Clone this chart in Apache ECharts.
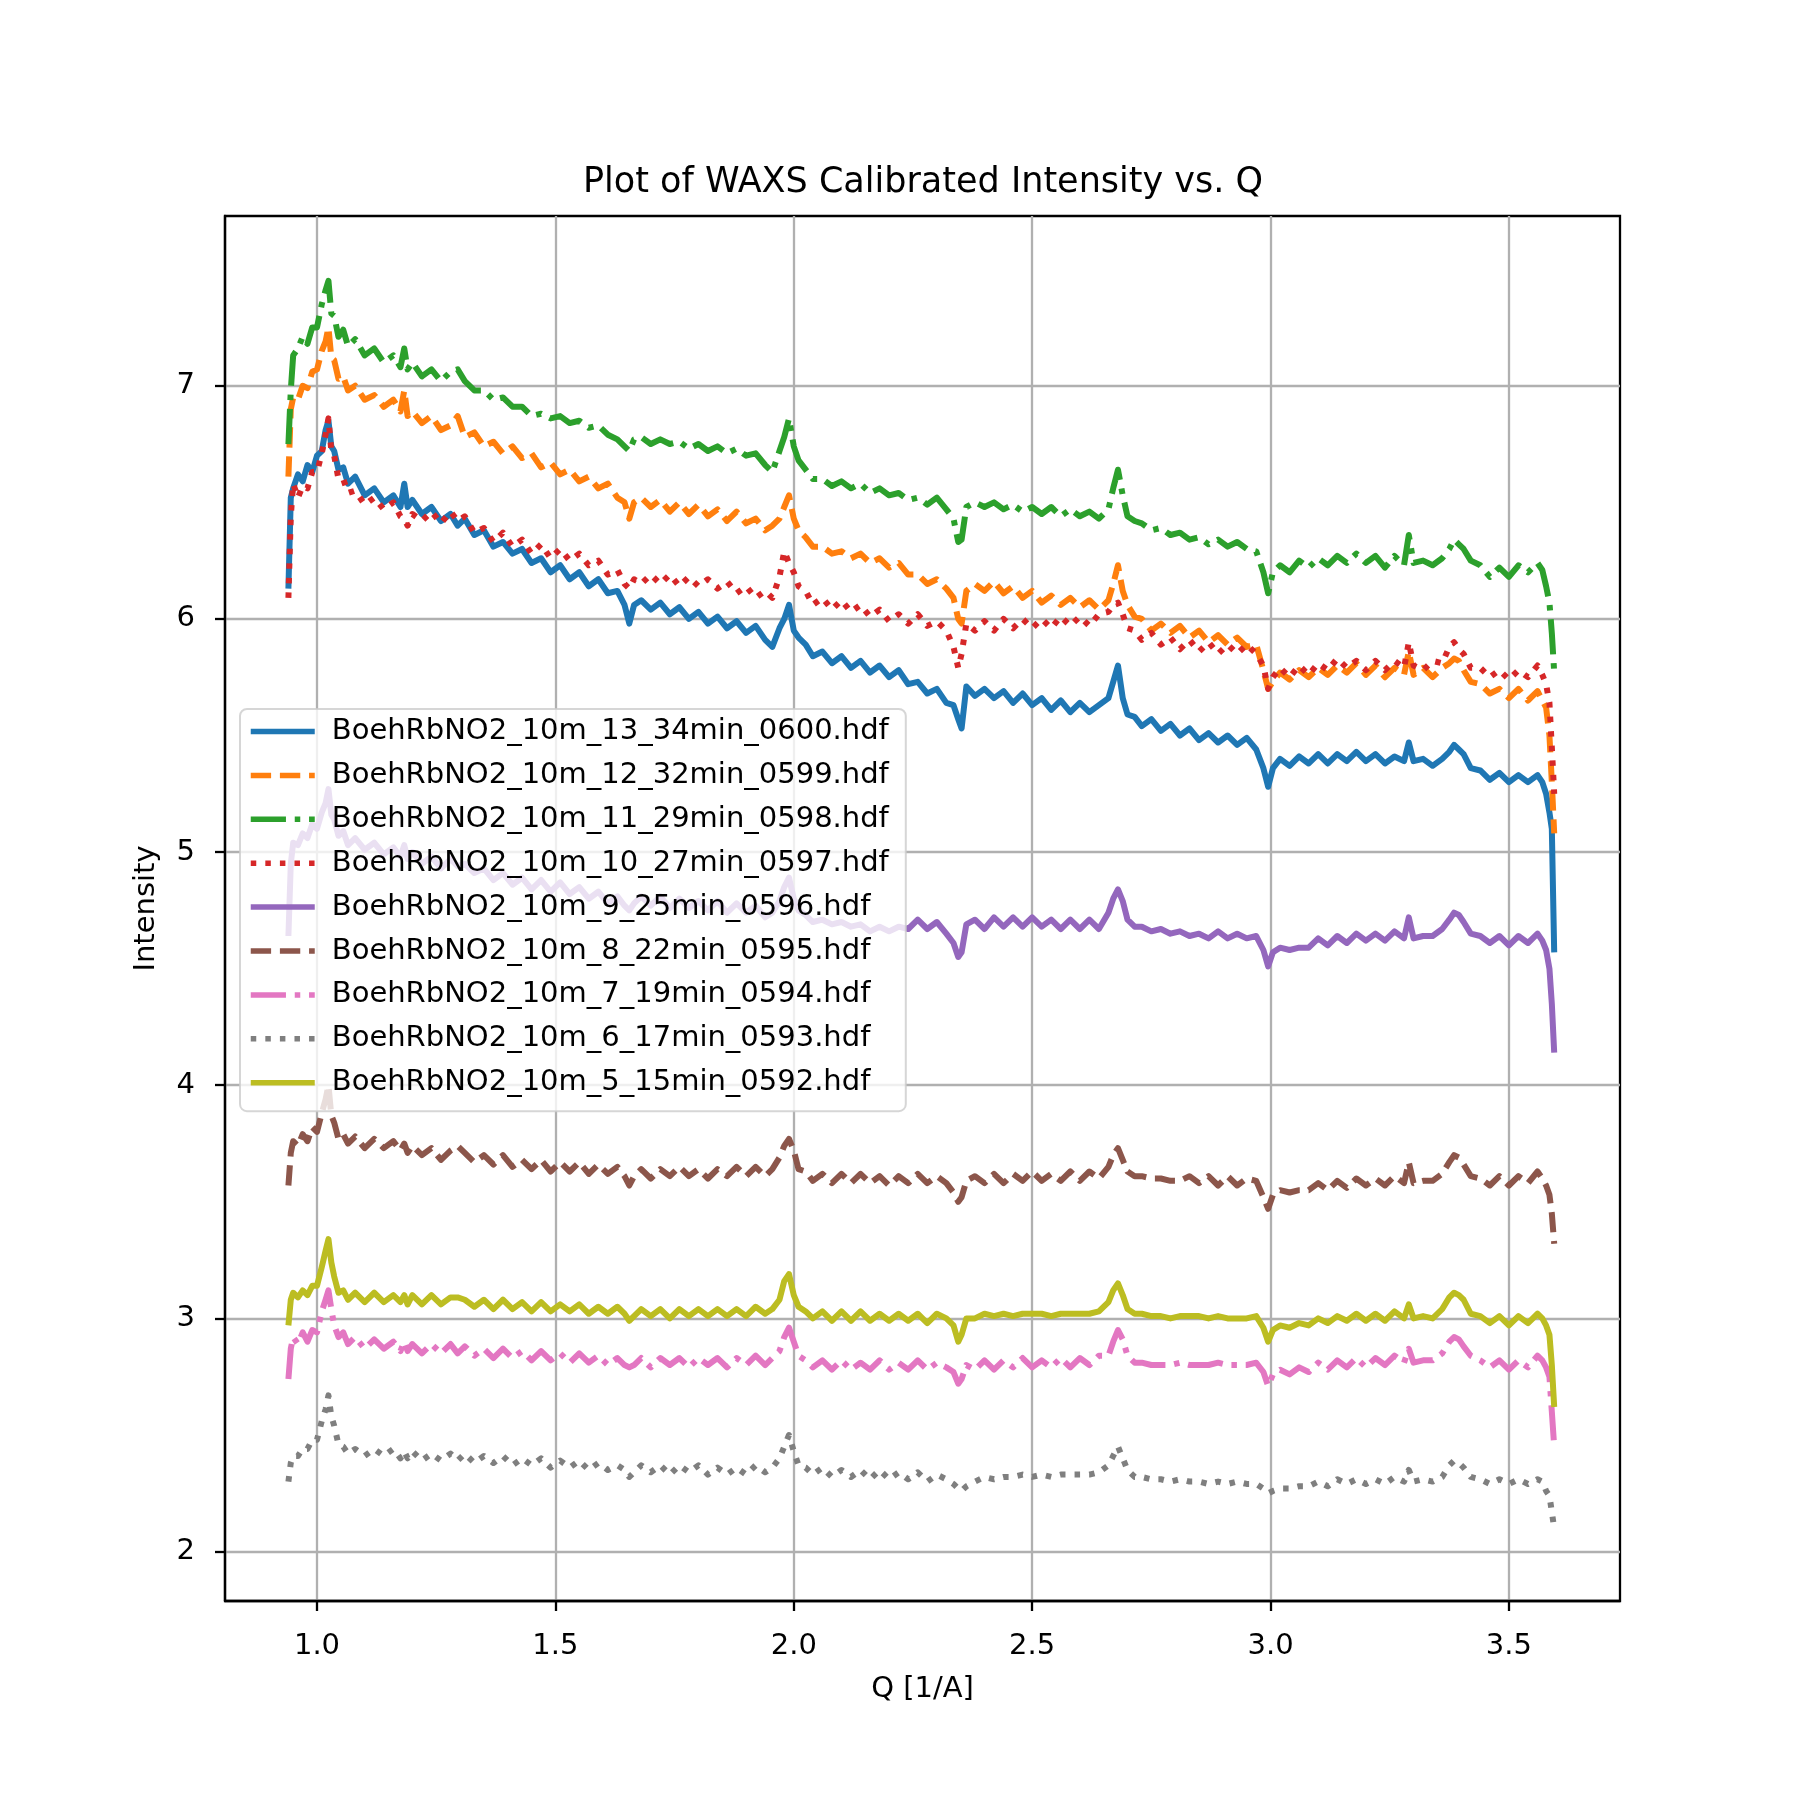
<!DOCTYPE html>
<html><head><meta charset="utf-8">
<script src="https://cdn.jsdelivr.net/npm/echarts@6/dist/echarts.min.js"></script>
<style>html,body{margin:0;padding:0;background:#fff}#c{width:1800px;height:1800px}</style>
</head><body><div id="c"></div>
<script>
// Q grid [1/A]
const Q = [
0.940,0.945,0.950,0.960,0.970,0.980,0.990,1.000,1.010,1.018,
1.024,1.030,1.036,1.045,1.055,1.065,1.080,1.100,1.120,1.140,
1.160,1.175,1.183,1.190,1.200,1.220,1.240,1.260,1.280,1.295,
1.310,1.330,1.350,1.370,1.390,1.410,1.430,1.450,1.470,1.490,
1.510,1.530,1.550,1.570,1.590,1.610,1.630,1.645,1.655,1.665,
1.680,1.700,1.720,1.740,1.760,1.780,1.800,1.820,1.840,1.860,
1.880,1.900,1.920,1.940,1.955,1.970,1.980,1.990,2.000,2.010,
2.025,2.040,2.060,2.080,2.100,2.120,2.140,2.160,2.180,2.200,
2.220,2.240,2.260,2.280,2.300,2.320,2.335,2.345,2.352,2.362,
2.380,2.400,2.420,2.440,2.460,2.480,2.500,2.520,2.540,2.560,
2.580,2.600,2.620,2.640,2.660,2.670,2.680,2.690,2.700,2.715,
2.730,2.750,2.770,2.790,2.810,2.830,2.850,2.870,2.890,2.910,
2.930,2.950,2.970,2.985,2.995,3.005,3.020,3.040,3.060,3.080,
3.100,3.120,3.140,3.160,3.180,3.200,3.220,3.240,3.260,3.280,
3.290,3.300,3.320,3.340,3.360,3.375,3.385,3.395,3.405,3.420,
3.440,3.460,3.480,3.500,3.520,3.540,3.560,3.570,3.578,3.585,
3.590,3.595];

const I_0600 = [
6.13,6.52,6.56,6.62,6.59,6.66,6.63,6.70,6.72,6.81,
6.85,6.74,6.72,6.64,6.65,6.58,6.61,6.53,6.56,6.50,
6.53,6.48,6.58,6.48,6.51,6.45,6.48,6.42,6.45,6.40,
6.43,6.36,6.38,6.31,6.33,6.28,6.30,6.24,6.26,6.20,
6.23,6.17,6.20,6.14,6.17,6.11,6.12,6.06,5.98,6.06,
6.08,6.04,6.07,6.02,6.05,6.00,6.03,5.98,6.01,5.96,
5.99,5.94,5.97,5.91,5.88,5.96,6.00,6.06,5.95,5.92,
5.89,5.84,5.86,5.81,5.84,5.79,5.82,5.77,5.80,5.75,
5.78,5.72,5.73,5.68,5.70,5.64,5.63,5.57,5.53,5.71,
5.67,5.70,5.66,5.69,5.64,5.68,5.63,5.66,5.61,5.65,
5.60,5.64,5.60,5.63,5.66,5.73,5.80,5.66,5.59,5.58,
5.54,5.57,5.52,5.55,5.50,5.53,5.48,5.51,5.47,5.50,
5.46,5.49,5.44,5.36,5.28,5.36,5.40,5.37,5.41,5.38,
5.42,5.38,5.42,5.39,5.43,5.39,5.42,5.38,5.41,5.39,
5.47,5.39,5.40,5.37,5.40,5.43,5.46,5.44,5.42,5.36,
5.35,5.31,5.34,5.30,5.33,5.30,5.33,5.30,5.25,5.17,
5.10,4.57];

const I_0599 = [
6.61,6.90,6.95,6.94,7.00,6.99,7.06,7.07,7.15,7.19,
7.25,7.12,7.11,7.03,7.04,6.98,7.00,6.94,6.96,6.91,
6.94,6.89,6.98,6.87,6.89,6.84,6.87,6.81,6.83,6.87,
6.78,6.80,6.74,6.76,6.71,6.74,6.69,6.71,6.65,6.67,
6.62,6.64,6.59,6.61,6.56,6.58,6.52,6.50,6.43,6.50,
6.52,6.48,6.51,6.46,6.50,6.45,6.49,6.44,6.47,6.42,
6.46,6.41,6.43,6.38,6.40,6.43,6.48,6.53,6.43,6.38,
6.35,6.31,6.31,6.28,6.29,6.26,6.28,6.24,6.26,6.22,
6.24,6.19,6.19,6.15,6.17,6.13,6.09,6.00,5.98,6.12,
6.15,6.12,6.16,6.11,6.14,6.09,6.12,6.07,6.10,6.06,
6.09,6.05,6.08,6.04,6.08,6.15,6.23,6.12,6.06,6.01,
6.00,5.95,5.98,5.94,5.97,5.92,5.95,5.90,5.93,5.89,
5.92,5.88,5.89,5.78,5.70,5.73,5.77,5.74,5.78,5.75,
5.79,5.76,5.80,5.77,5.81,5.76,5.80,5.75,5.79,5.76,
5.86,5.76,5.79,5.75,5.79,5.81,5.83,5.82,5.78,5.73,
5.72,5.68,5.70,5.66,5.70,5.65,5.69,5.65,5.62,5.50,
5.30,5.08];

const I_0598 = [
6.75,6.98,7.13,7.16,7.21,7.18,7.25,7.25,7.35,7.41,
7.45,7.31,7.30,7.21,7.24,7.17,7.20,7.13,7.16,7.10,
7.13,7.08,7.16,7.07,7.10,7.04,7.07,7.02,7.06,7.07,
7.02,6.98,6.98,6.94,6.95,6.91,6.91,6.87,6.88,6.86,
6.87,6.84,6.85,6.82,6.83,6.79,6.77,6.74,6.72,6.77,
6.78,6.75,6.77,6.75,6.76,6.73,6.75,6.72,6.74,6.71,
6.73,6.70,6.71,6.66,6.63,6.72,6.78,6.86,6.74,6.68,
6.64,6.60,6.60,6.57,6.59,6.56,6.58,6.54,6.56,6.53,
6.54,6.51,6.52,6.49,6.52,6.47,6.43,6.33,6.34,6.48,
6.50,6.48,6.50,6.47,6.49,6.46,6.48,6.45,6.48,6.44,
6.47,6.44,6.46,6.43,6.47,6.56,6.64,6.53,6.44,6.42,
6.41,6.38,6.39,6.36,6.37,6.34,6.35,6.32,6.34,6.31,
6.33,6.30,6.29,6.20,6.11,6.20,6.23,6.20,6.25,6.22,
6.26,6.23,6.27,6.24,6.28,6.24,6.27,6.22,6.27,6.23,
6.36,6.24,6.25,6.23,6.26,6.30,6.34,6.32,6.30,6.25,
6.23,6.18,6.22,6.18,6.23,6.20,6.24,6.21,6.14,6.07,
5.94,5.77];

const I_0597 = [
6.09,6.44,6.58,6.52,6.57,6.56,6.63,6.63,6.71,6.79,
6.86,6.72,6.70,6.60,6.60,6.54,6.55,6.49,6.52,6.47,
6.50,6.44,6.43,6.40,6.45,6.42,6.46,6.41,6.46,6.42,
6.44,6.37,6.39,6.33,6.37,6.31,6.34,6.28,6.32,6.26,
6.30,6.25,6.28,6.23,6.25,6.19,6.21,6.15,6.13,6.17,
6.15,6.19,6.15,6.19,6.14,6.18,6.14,6.17,6.13,6.16,
6.11,6.14,6.09,6.12,6.09,6.18,6.29,6.24,6.20,6.14,
6.12,6.06,6.09,6.04,6.08,6.03,6.06,6.01,6.04,5.99,
6.02,5.98,6.02,5.97,5.99,5.95,5.88,5.79,5.85,5.98,
5.95,5.99,5.95,6.00,5.96,6.00,5.96,6.00,5.96,6.01,
5.97,6.01,5.97,6.02,6.03,6.06,6.07,6.02,5.96,5.95,
5.91,5.94,5.89,5.92,5.87,5.91,5.86,5.90,5.85,5.89,
5.85,5.89,5.85,5.80,5.70,5.75,5.79,5.75,5.80,5.76,
5.81,5.78,5.83,5.79,5.82,5.78,5.82,5.78,5.82,5.79,
5.90,5.80,5.78,5.82,5.81,5.88,5.90,5.87,5.85,5.79,
5.79,5.75,5.78,5.74,5.78,5.75,5.80,5.76,5.72,5.64,
5.45,5.25];

const I_0596 = [
4.64,4.95,5.04,5.03,5.08,5.06,5.12,5.10,5.17,5.21,
5.27,5.16,5.14,5.07,5.09,5.03,5.06,5.01,5.04,4.99,
5.02,4.98,5.03,4.97,5.00,4.95,4.98,4.93,4.97,4.94,
4.95,4.91,4.93,4.88,4.91,4.86,4.89,4.84,4.88,4.83,
4.87,4.82,4.85,4.80,4.83,4.78,4.81,4.77,4.75,4.78,
4.81,4.77,4.81,4.76,4.80,4.76,4.79,4.75,4.79,4.74,
4.78,4.74,4.77,4.72,4.74,4.79,4.85,4.89,4.80,4.75,
4.73,4.70,4.71,4.69,4.70,4.68,4.69,4.66,4.68,4.66,
4.68,4.67,4.71,4.67,4.70,4.65,4.61,4.55,4.57,4.69,
4.71,4.67,4.72,4.68,4.72,4.68,4.72,4.68,4.71,4.67,
4.71,4.67,4.71,4.67,4.74,4.80,4.84,4.79,4.71,4.68,
4.68,4.66,4.67,4.65,4.66,4.64,4.65,4.63,4.66,4.63,
4.65,4.63,4.64,4.58,4.51,4.57,4.59,4.58,4.59,4.59,
4.63,4.60,4.64,4.61,4.65,4.62,4.65,4.62,4.66,4.63,
4.72,4.63,4.64,4.64,4.67,4.71,4.74,4.73,4.70,4.65,
4.64,4.61,4.64,4.60,4.64,4.61,4.65,4.62,4.58,4.50,
4.35,4.14];

const I_0595 = [
3.57,3.71,3.76,3.74,3.79,3.76,3.82,3.80,3.88,3.94,
4.00,3.87,3.84,3.77,3.79,3.75,3.78,3.73,3.77,3.73,
3.76,3.72,3.75,3.71,3.74,3.70,3.73,3.68,3.72,3.74,
3.71,3.67,3.70,3.66,3.70,3.65,3.68,3.64,3.68,3.63,
3.67,3.63,3.67,3.62,3.66,3.62,3.65,3.61,3.57,3.61,
3.64,3.60,3.64,3.61,3.65,3.61,3.64,3.60,3.64,3.61,
3.65,3.61,3.65,3.61,3.64,3.69,3.74,3.77,3.72,3.64,
3.63,3.59,3.62,3.58,3.62,3.58,3.62,3.58,3.61,3.57,
3.61,3.58,3.62,3.58,3.61,3.58,3.54,3.50,3.52,3.59,
3.61,3.58,3.62,3.58,3.62,3.59,3.63,3.59,3.62,3.59,
3.63,3.59,3.63,3.60,3.65,3.70,3.73,3.68,3.63,3.61,
3.61,3.60,3.60,3.59,3.59,3.61,3.58,3.61,3.57,3.61,
3.57,3.60,3.59,3.52,3.47,3.53,3.55,3.54,3.55,3.55,
3.58,3.55,3.59,3.56,3.60,3.57,3.60,3.57,3.61,3.58,
3.67,3.58,3.59,3.59,3.62,3.67,3.70,3.69,3.66,3.61,
3.60,3.57,3.61,3.57,3.61,3.58,3.63,3.60,3.57,3.53,
3.45,3.32];

const I_0594 = [
2.74,2.87,2.92,2.89,2.94,2.90,2.95,2.94,3.03,3.08,
3.12,3.04,2.97,2.92,2.94,2.89,2.92,2.87,2.91,2.87,
2.90,2.86,2.90,2.86,2.89,2.85,2.89,2.85,2.89,2.85,
2.88,2.84,2.87,2.83,2.87,2.83,2.86,2.82,2.86,2.82,
2.85,2.81,2.85,2.81,2.84,2.80,2.83,2.80,2.79,2.80,
2.83,2.79,2.83,2.80,2.83,2.79,2.83,2.80,2.83,2.79,
2.83,2.80,2.84,2.80,2.83,2.86,2.92,2.96,2.90,2.84,
2.82,2.79,2.82,2.78,2.82,2.78,2.81,2.78,2.82,2.78,
2.81,2.78,2.82,2.78,2.81,2.79,2.77,2.72,2.74,2.80,
2.78,2.82,2.78,2.82,2.79,2.83,2.79,2.82,2.79,2.83,
2.79,2.83,2.80,2.84,2.84,2.90,2.95,2.91,2.84,2.81,
2.81,2.80,2.80,2.80,2.81,2.80,2.80,2.80,2.81,2.80,
2.80,2.80,2.81,2.77,2.71,2.76,2.78,2.76,2.79,2.77,
2.81,2.78,2.82,2.79,2.83,2.79,2.83,2.80,2.84,2.81,
2.87,2.81,2.82,2.82,2.85,2.90,2.92,2.91,2.88,2.84,
2.82,2.79,2.82,2.78,2.82,2.79,2.84,2.82,2.79,2.75,
2.60,2.45];

const I_0593 = [
2.30,2.38,2.41,2.41,2.44,2.44,2.48,2.48,2.56,2.61,
2.67,2.58,2.54,2.46,2.45,2.42,2.44,2.41,2.44,2.41,
2.44,2.40,2.43,2.40,2.43,2.39,2.42,2.39,2.42,2.39,
2.42,2.38,2.41,2.38,2.41,2.37,2.40,2.37,2.40,2.36,
2.39,2.36,2.39,2.35,2.38,2.35,2.37,2.35,2.32,2.34,
2.37,2.34,2.37,2.33,2.37,2.34,2.37,2.33,2.36,2.33,
2.36,2.33,2.37,2.34,2.36,2.40,2.45,2.50,2.43,2.37,
2.36,2.33,2.36,2.32,2.35,2.32,2.35,2.31,2.35,2.31,
2.34,2.31,2.34,2.30,2.33,2.31,2.29,2.27,2.26,2.28,
2.30,2.32,2.31,2.32,2.32,2.33,2.32,2.33,2.32,2.33,
2.33,2.33,2.33,2.34,2.37,2.41,2.45,2.40,2.35,2.32,
2.32,2.31,2.31,2.30,2.31,2.30,2.30,2.29,2.30,2.29,
2.30,2.29,2.29,2.27,2.25,2.26,2.27,2.27,2.28,2.28,
2.30,2.28,2.31,2.29,2.31,2.29,2.31,2.29,2.32,2.30,
2.35,2.30,2.31,2.30,2.32,2.37,2.39,2.38,2.36,2.32,
2.31,2.29,2.31,2.29,2.31,2.29,2.31,2.30,2.26,2.24,
2.17,2.10];

const I_0592 = [
2.97,3.08,3.11,3.09,3.12,3.10,3.14,3.14,3.22,3.29,
3.34,3.24,3.18,3.11,3.12,3.08,3.11,3.07,3.11,3.07,
3.10,3.07,3.10,3.06,3.10,3.06,3.10,3.06,3.09,3.09,
3.08,3.05,3.08,3.04,3.08,3.04,3.07,3.03,3.07,3.03,
3.06,3.03,3.06,3.02,3.05,3.02,3.05,3.02,2.99,3.01,
3.04,3.01,3.04,3.00,3.04,3.01,3.04,3.01,3.04,3.01,
3.04,3.01,3.05,3.02,3.04,3.08,3.16,3.19,3.10,3.05,
3.03,3.00,3.03,2.99,3.03,2.99,3.03,2.99,3.02,2.99,
3.02,2.99,3.02,2.98,3.02,3.00,2.97,2.90,2.93,3.00,
3.00,3.02,3.01,3.02,3.01,3.02,3.02,3.02,3.01,3.02,
3.02,3.02,3.02,3.03,3.07,3.12,3.15,3.10,3.04,3.02,
3.02,3.01,3.01,3.00,3.01,3.01,3.01,3.00,3.01,3.00,
3.00,3.00,3.01,2.96,2.90,2.95,2.97,2.96,2.98,2.97,
3.00,2.98,3.01,2.99,3.02,2.99,3.02,2.99,3.03,3.00,
3.06,3.00,3.01,3.00,3.04,3.09,3.11,3.10,3.08,3.02,
3.01,2.98,3.01,2.97,3.01,2.98,3.02,3.00,2.97,2.93,
2.80,2.62];

const seriesNames = [
'BoehRbNO2_10m_13_34min_0600.hdf',
'BoehRbNO2_10m_12_32min_0599.hdf',
'BoehRbNO2_10m_11_29min_0598.hdf',
'BoehRbNO2_10m_10_27min_0597.hdf',
'BoehRbNO2_10m_9_25min_0596.hdf',
'BoehRbNO2_10m_8_22min_0595.hdf',
'BoehRbNO2_10m_7_19min_0594.hdf',
'BoehRbNO2_10m_6_17min_0593.hdf',
'BoehRbNO2_10m_5_15min_0592.hdf'];
const seriesValues = [I_0600, I_0599, I_0598, I_0597, I_0596, I_0595, I_0594, I_0593, I_0592];
const xTicks = [1.0, 1.5, 2.0, 2.5, 3.0, 3.5];
const yTicks = [2, 3, 4, 5, 6, 7];

const colors = ['#1f77b4','#ff7f0e','#2ca02c','#d62728','#9467bd','#8c564b','#e377c2','#7f7f7f','#bcbd22'];
const LW = 5.5;
const dashMap = {
  solid: 'solid',
  dashed: [3.7*LW, 1.6*LW],
  dashdot: [6.4*LW, 1.6*LW, 1.0*LW, 1.6*LW],
  dotted: [1.0*LW, 1.65*LW]
};
const styleSeq = ['solid','dashed','dashdot','dotted','solid','dashed','dashdot','dotted','solid'];
const FONT = 'DejaVu Sans';

const series = seriesNames.map((name, k) => ({
  name: name,
  type: 'line',
  data: Q.map((q, i) => [q, seriesValues[k][i]]),
  symbol: 'none',
  showSymbol: false,
  silent: true,
  animation: false,
  lineStyle: { color: colors[k], width: 6, type: dashMap[styleSeq[k]], cap: 'butt', join: 'round' },
  itemStyle: { color: colors[k] },
  z: 2 + k * 0.01
}));

const chart = echarts.init(document.getElementById('c'), null, { renderer: 'canvas' });
chart.setOption({
  backgroundColor: '#ffffff',
  animation: false,
  textStyle: { fontFamily: FONT },
  title: {
    text: 'Plot of WAXS Calibrated Intensity vs. Q',
    left: 583, top: 165, padding: 0,
    textStyle: { fontSize: 35, fontWeight: 'normal', fontFamily: FONT, color: '#000' }
  },
  grid: {
    left: 225, top: 216, width: 1395, height: 1385,
    show: true, borderColor: '#000', borderWidth: 2.3, backgroundColor: '#fff',
    containLabel: false, outerBoundsMode: 'none'
  },
  legend: {
    data: seriesNames,
    orient: 'vertical',
    left: 240, top: 709,
    padding: [8, 17, 14, 8],
    itemWidth: 64, itemHeight: 14, itemGap: 14.9,
    selectedMode: false,
    backgroundColor: 'rgba(255,255,255,0.8)',
    borderColor: 'rgba(204,204,204,0.8)',
    borderWidth: 2, borderRadius: 7,
    lineStyle: { width: LW },
    itemStyle: { opacity: 0 },
    textStyle: { fontSize: 29, fontFamily: FONT, color: '#000', padding: [0, 0, 0, 12] },
    z: 10
  },
  xAxis: {
    type: 'value', min: 0.807, max: 3.733,
    name: 'Q [1/A]', nameLocation: 'middle', nameGap: 74,
    nameTextStyle: { fontSize: 29, fontFamily: FONT, color: '#000' },
    axisLine: { show: true, onZero: false, lineStyle: { color: '#000', width: 2.3 } },
    axisTick: { show: true, inside: false, length: 10, customValues: xTicks, lineStyle: { color: '#000', width: 2.3 } },
    axisLabel: { customValues: xTicks, formatter: v => v.toFixed(1), fontSize: 29, fontFamily: FONT, color: '#000', margin: 31 },
    splitLine: { show: true, lineStyle: { color: '#b0b0b0', width: 2.3 } }
  },
  yAxis: {
    type: 'value', min: 1.788, max: 7.728,
    name: 'Intensity', nameLocation: 'middle', nameGap: 64, nameRotate: 90,
    nameTextStyle: { fontSize: 29, fontFamily: FONT, color: '#000' },
    axisLine: { show: true, onZero: false, lineStyle: { color: '#000', width: 2.3 } },
    axisTick: { show: true, inside: false, length: 10, customValues: yTicks, lineStyle: { color: '#000', width: 2.3 } },
    axisLabel: { customValues: yTicks, formatter: v => String(Math.round(v)), fontSize: 29, fontFamily: FONT, color: '#000', margin: 30 },
    splitLine: { show: true, lineStyle: { color: '#b0b0b0', width: 2.3 } }
  },
  series: series
});
</script>
</body></html>
